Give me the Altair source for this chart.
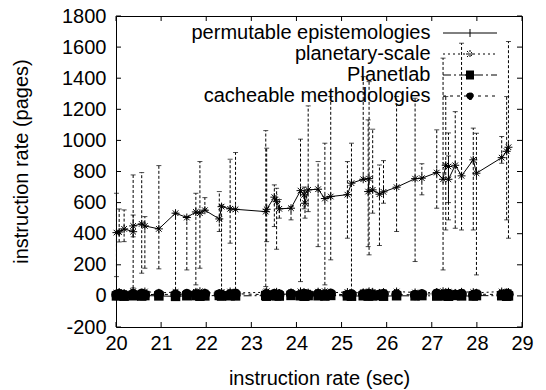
import altair as alt
import pandas as pd

# ---------------- data ----------------
x_vals = [20.01, 20.07, 20.18, 20.38, 20.38, 20.57, 20.64, 20.95, 21.32, 21.57,
          21.77, 21.86, 21.97, 22.29, 22.34, 22.53, 22.65, 23.32, 23.34, 23.51,
          23.56, 23.62, 23.88, 24.09, 24.17, 24.19, 24.26, 24.48, 24.63, 24.76,
          25.13, 25.22, 25.48, 25.61, 25.59, 25.69, 25.84, 25.93, 26.22, 26.63,
          26.78, 27.11, 27.25, 27.31, 27.37, 27.37, 27.52, 27.66, 27.92, 27.99,
          28.55, 28.66, 28.70]
perm_y = [407, 411, 431, 413, 450, 463, 450, 431, 532, 504,
          540, 532, 551, 495, 574, 560, 557, 542, 557, 635,
          606, 560, 564, 677, 650, 596, 682, 686, 626, 639,
          651, 725, 750, 754, 671, 682, 654, 669, 699, 754,
          757, 793, 750, 840, 832, 750, 840, 772, 875, 789,
          889, 930, 956]
err_lo = [124, 347, 349, 51, 380, 146, 178, 174, 39, 167,
          71, 178, 553, 414, 28, 339, 39, 60, 349, 446,
          300, 500, 489, 92, 560, 500, 542, 317, 71, 232,
          371, 28, 746, 264, 317, 532, 324, 596, 414, 221,
          650, 564, 167, 424, 489, 600, 435, 424, 424, 135,
          853, 489, 371]
err_hi = [660, 559, 553, 778, 520, 793, 510, 838, 532, 510,
          660, 864, 632, 671, 585, 879, 922, 1063, 950, 714,
          692, 620, 574, 1008, 700, 680, 1222, 864, 982, 1282,
          864, 982, 1410, 1378, 1132, 1072, 842, 870, 1282, 1271,
          850, 1068, 1529, 1282, 1048, 900, 1185, 1625, 1079, 1046,
          1025, 1282, 1636]
planetary_y = [20, 25, 18, 30, 22, 15, 28, 20, 24, 18, 26, 30, 21, 17, 25, 28, 19, 23,
               30, 20, 26, 18, 22, 29, 24, 17, 21, 27, 30, 20, 25, 18, 23, 29, 21, 26,
               19, 24, 28, 22, 17, 25, 30, 21, 27, 23, 19, 26, 24, 20, 28, 22, 25]
planetlab_y = [0, 3, -2, 1, 4, -1, 2, 0, -3, 1, 2, -2, 0, 3, -1, 1, 0, 2,
               -2, 4, 0, -1, 3, 1, -2, 0, 2, 1, -1, 3, 0, -2, 1, 2, -1, 0,
               3, -2, 1, 0, 2, -1, 4, 0, -2, 1, 3, 0, -1, 2, 1, -2, 0]
cacheable_y = [8, 12, 6, 10, 9, 14, 7, 11, 8, 13, 10, 6, 12, 9, 7, 11, 14, 8,
               10, 12, 6, 9, 13, 7, 11, 10, 8, 12, 9, 14, 6, 10, 11, 7, 13, 9,
               8, 12, 10, 6, 11, 14, 9, 7, 12, 10, 8, 13, 6, 11, 9, 12, 10]
series_names = ["permutable epistemologies", "planetary-scale", "Planetlab",
                "cacheable methodologies"]
x_ticks = [20, 21, 22, 23, 24, 25, 26, 27, 28, 29]
y_ticks = [-200, 0, 200, 400, 600, 800, 1000, 1200, 1400, 1600, 1800]

# ---------------- styling ----------------
W, H = 406, 311
FONT = "Liberation Sans"
FS = 20

STAR = "M-1,0H1M0,-1V1M-0.7,-0.7L0.7,0.7M-0.7,0.7L0.7,-0.7"
# legend symbols: sqrt(size)=20 -> 10 px per path unit; line sample is 54 px
LEG_PLUS = "M-2.7,0H2.7M0,-0.4V0.4"
LEG_STAR = "M-2.7,0H2.7M-0.4,0H0.4M0,-0.4V0.4M-0.3,-0.3L0.3,0.3M-0.3,0.3L0.3,-0.3"
LEG_SQ = "M-2.7,0H2.7M-0.4,-0.4H0.4V0.4H-0.4Z"
LEG_CIRC = "M-2.7,0H2.7M-0.35,0A0.35,0.35,0,1,1,0.35,0A0.35,0.35,0,1,1,-0.35,0Z"

df = pd.DataFrame({
    "x": x_vals, "y": perm_y, "lo": err_lo, "hi": err_hi,
    "pl": planetary_y, "lab": planetlab_y, "cm": cacheable_y,
    "i": list(range(len(x_vals))),
})

xs = alt.Scale(domain=[20, 29], nice=False, zero=False, padding=0)
ys = alt.Scale(domain=[-200, 1800], nice=False, zero=False, padding=0)

xaxis = alt.Axis(values=x_ticks, title="instruction rate (sec)", ticks=False,
                 domain=False, grid=False, labelPadding=6, labelExpr="'' + datum.value",
                 labelFlush=False, labelOverlap=False,
                 labelFont=FONT, labelFontSize=FS, labelColor="black",
                 titleFont=FONT, titleFontSize=FS, titleFontWeight="normal",
                 titleColor="black", titleY=57, titleBaseline="alphabetic")
yaxis = alt.Axis(values=y_ticks, title="instruction rate (pages)", ticks=False,
                 domain=False, grid=False, labelPadding=10, labelExpr="'' + datum.value",
                 labelFlush=False, labelOverlap=False,
                 labelFont=FONT, labelFontSize=FS, labelColor="black",
                 titleFont=FONT, titleFontSize=FS, titleFontWeight="normal",
                 titleColor="black", titlePadding=30, titleY=145)


def X(f="x"):
    return alt.X(f + ":Q", scale=xs, axis=xaxis)


def Y(f):
    return alt.Y(f + ":Q", scale=ys, axis=yaxis)


base = alt.Chart(df)

err = base.mark_rule(color="black", strokeWidth=1, strokeDash=[3, 2]).encode(
    x=X(), y=Y("lo"), y2="hi:Q")
cap_lo = base.mark_tick(orient="horizontal", size=5, thickness=1, color="black").encode(
    x=X(), y=Y("lo"))
cap_hi = base.mark_tick(orient="horizontal", size=5, thickness=1, color="black").encode(
    x=X(), y=Y("hi"))

main_line = base.mark_line(color="black", strokeWidth=1).encode(
    x=X(), y=Y("y"), order="i:Q")
main_pts = base.mark_point(shape=STAR, size=64, color="black", strokeWidth=1,
                           filled=False, opacity=1).encode(x=X(), y=Y("y"))

pl_line = base.mark_line(color="black", strokeWidth=1, strokeDash=[2, 3]).encode(
    x=X(), y=Y("pl"), order="i:Q")
lab_line = base.mark_line(color="black", strokeWidth=1, strokeDash=[8, 3, 2, 3]).encode(
    x=X(), y=Y("lab"), order="i:Q")
cm_line = base.mark_line(color="black", strokeWidth=1, strokeDash=[3, 4]).encode(
    x=X(), y=Y("cm"), order="i:Q")

pl_pts = base.mark_point(shape=STAR, size=64, color="black", strokeWidth=1,
                         filled=False, opacity=1).encode(x=X(), y=Y("pl"))
lab_pts = base.mark_point(shape="square", size=90, color="black", filled=True,
                          opacity=1).encode(x=X(), y=Y("lab"))
cm_pts = base.mark_point(shape="circle", size=110, color="black", filled=True,
                         opacity=1).encode(x=X(), y=Y("cm"))

# inward ticks on all four sides (gnuplot style)
xt = pd.DataFrame({"t": x_ticks})
yt = pd.DataFrame({"t": y_ticks})
tick_b = alt.Chart(xt).mark_rule(color="black", strokeWidth=1).encode(
    x=X("t"), y=alt.value(H), y2=alt.value(H - 5))
tick_t = alt.Chart(xt).mark_rule(color="black", strokeWidth=1).encode(
    x=X("t"), y=alt.value(0), y2=alt.value(5))
tick_l = alt.Chart(yt).mark_rule(color="black", strokeWidth=1).encode(
    y=Y("t"), x=alt.value(0), x2=alt.value(5))
tick_r = alt.Chart(yt).mark_rule(color="black", strokeWidth=1).encode(
    y=Y("t"), x=alt.value(W), x2=alt.value(W - 5))

# legend (gnuplot style: text right-aligned, line sample + marker at right)
leg = alt.Legend(title=None, orient="none", legendX=343.5, legendY=6.5,
                 labelAlign="right", labelOffset={"expr": "-50"}, labelFont=FONT,
                 labelFontSize=FS, labelColor="black", labelLimit=400,
                 symbolSize=400, symbolStrokeWidth=1, rowPadding=0, symbolOpacity=1)
legend_df = pd.DataFrame({"series": series_names,
                          "x": [None] * 4, "y": [None] * 4})
legend_layer = alt.Chart(legend_df).mark_point(
    filled=False, fill="black", stroke="black", color="black",
    size=400, strokeWidth=1, opacity=1
).encode(
    x=X(), y=Y("y"),
    shape=alt.Shape("series:N", scale=alt.Scale(
        domain=series_names, range=[LEG_PLUS, LEG_STAR, LEG_SQ, LEG_CIRC]), legend=leg),
    strokeDash=alt.StrokeDash("series:N", scale=alt.Scale(
        domain=series_names, range=[[1, 0], [2, 3], [8, 3, 2, 3], [3, 4]]), legend=leg),
)

chart = alt.layer(
    err, cap_lo, cap_hi,
    pl_line, lab_line, cm_line,
    lab_pts, cm_pts, pl_pts,
    main_line, main_pts,
    tick_b, tick_t, tick_l, tick_r,
    legend_layer,
).properties(
    width=W, height=H,
    padding={"left": 116, "top": 16, "right": 24, "bottom": 63},
    autosize=alt.AutoSizeParams(type="none"),
    background="white",
).configure_view(stroke="black", strokeWidth=1)

chart.save("out.html", embed_options={"renderer": "svg", "actions": False})
